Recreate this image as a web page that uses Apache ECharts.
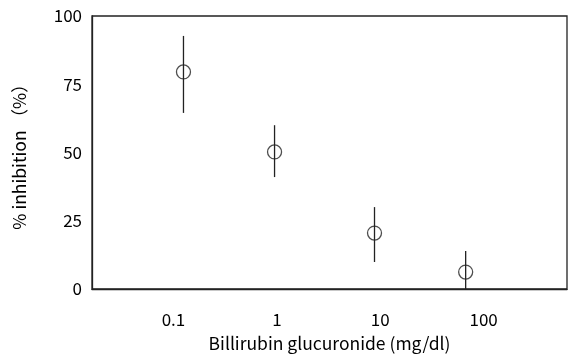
<!DOCTYPE html>
<html>
<head>
<meta charset="utf-8">
<script src="https://cdn.jsdelivr.net/npm/echarts@6/dist/echarts.min.js"></script>
<style>html,body{margin:0;padding:0;background:#fff}#c{width:568px;height:357px}</style>
</head>
<body>
<div id="c"></div>
<script>
const concentrations = [0.125, 0.95, 8.8, 67];
const inhibition = [79.5, 50.2, 20.5, 6.2];
const errLow = [64.5, 41, 9.9, 0];
const errHigh = [92.7, 60, 30, 13.9];
const xTickLabels = [0.1, 1, 10, 100];
const yTickLabels = [0, 25, 50, 75, 100];

const font = '"Noto Sans CJK JP", "Noto Sans", sans-serif';
const chart = echarts.init(document.getElementById('c'));
chart.setOption({
  animation: false,
  backgroundColor: '#fff',
  grid: { left: 92, right: 1, top: 16, bottom: 68, show: true, borderColor: '#222', borderWidth: 1.3,
    containLabel: false, outerBoundsMode: 'none' },
  xAxis: {
    type: 'log', logBase: 10, min: 0.0163, max: 640,
    name: 'Billirubin glucuronide (mg/dl)', nameLocation: 'middle', nameGap: 46,
    nameTextStyle: { fontFamily: font, fontSize: 17.5, color: '#000' },
    axisLine: { show: true, lineStyle: { color: '#222', width: 1.3 } },
    axisTick: { show: false },
    splitLine: { show: false },
    axisLabel: { customValues: xTickLabels, margin: 22, fontFamily: font, fontSize: 17, color: '#000',
      formatter: v => String(+(+v).toPrecision(6)) }
  },
  yAxis: {
    type: 'value', min: 0, max: 100, interval: 25,
    name: '% inhibition （%）', nameLocation: 'middle', nameGap: 64, nameRotate: 90,
    nameTextStyle: { fontFamily: font, fontSize: 17.5, color: '#000' },
    axisLine: { show: true, lineStyle: { color: '#222', width: 1.3 } },
    axisTick: { show: false },
    splitLine: { show: false },
    axisLabel: { margin: 10, fontFamily: font, fontSize: 17, color: '#000',
      formatter: v => yTickLabels.includes(v) ? String(v) : '' }
  },
  series: [
    {
      type: 'custom',
      data: concentrations.map((x, i) => [x, errLow[i], errHigh[i]]),
      renderItem: (params, api) => {
        const p1 = api.coord([api.value(0), api.value(1)]);
        const p2 = api.coord([api.value(0), api.value(2)]);
        return { type: 'line', shape: { x1: p1[0], y1: p1[1], x2: p2[0], y2: p2[1] },
          style: { stroke: '#222', lineWidth: 1.3 } };
      },
      z: 1
    },
    {
      type: 'scatter',
      data: concentrations.map((x, i) => [x, inhibition[i]]),
      symbol: 'circle', symbolSize: 14,
      itemStyle: { color: 'rgba(255,255,255,0)', borderColor: '#222', borderWidth: 1.3 },
      z: 2
    }
  ]
});
</script>
</body>
</html>
